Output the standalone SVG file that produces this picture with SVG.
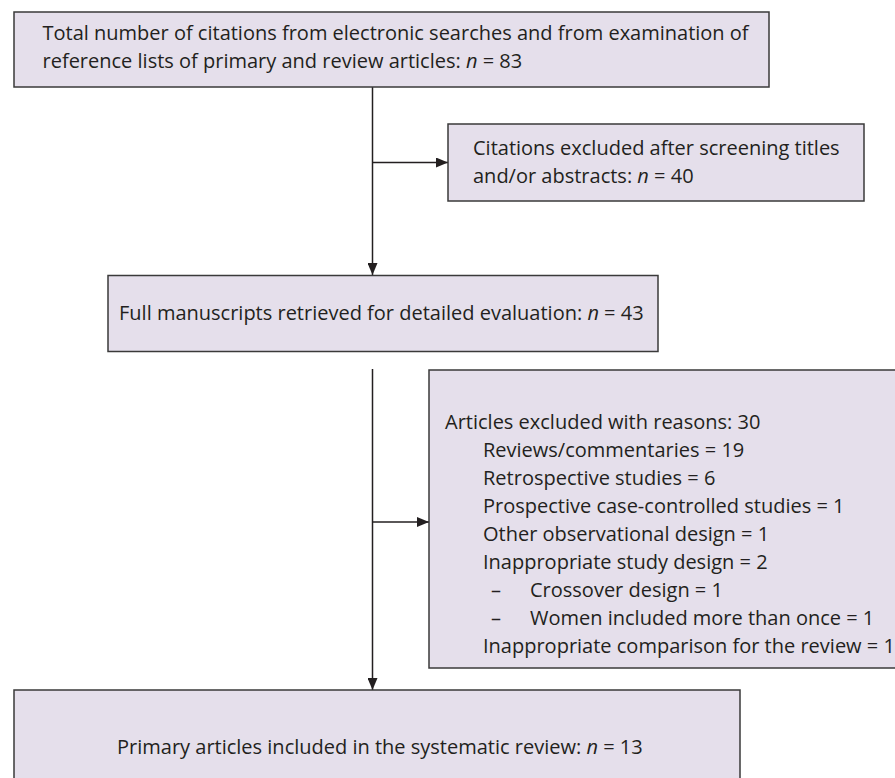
<svg xmlns="http://www.w3.org/2000/svg" width="895" height="778" viewBox="0 0 895 778">
<defs>
<style>
.box{fill:#e5dfeb;stroke:#3a3a3a;stroke-width:1.5}
.t{font-family:"Open Sans","Noto Sans","Liberation Sans",sans-serif;font-size:20px;fill:#231f20}
.c{stroke:#231f20;stroke-width:1.5;fill:none}
</style>
<marker id="ah" markerWidth="12" markerHeight="10" refX="12" refY="5" orient="auto" markerUnits="userSpaceOnUse">
<path d="M0,0 L12,5 L0,10 Z" fill="#231f20"/>
</marker>
</defs>
<rect width="895" height="778" fill="#fff"/>
<g id="connectors">
<line class="c" x1="372.5" y1="87" x2="372.5" y2="275" marker-end="url(#ah)"/>
<line class="c" x1="372.5" y1="162.5" x2="448" y2="162.5" marker-end="url(#ah)"/>
<line class="c" x1="372.5" y1="369" x2="372.5" y2="690" marker-end="url(#ah)"/>
<line class="c" x1="372.5" y1="522" x2="429" y2="522" marker-end="url(#ah)"/>
</g>
<g id="n1">
<rect class="box" x="14" y="12" width="755" height="75"/>
<text class="t" x="42.5" y="40">Total number of citations from electronic searches and from examination of</text>
<text class="t" x="42.5" y="68">reference lists of primary and review articles: <tspan font-style="italic">n</tspan> = 83</text>
</g>
<g id="n2">
<rect class="box" x="448" y="124" width="416" height="77"/>
<text class="t" x="473" y="155">Citations excluded after screening titles</text>
<text class="t" x="473" y="183">and/or abstracts: <tspan font-style="italic">n</tspan> = 40</text>
</g>
<g id="n3">
<rect class="box" x="108" y="275.5" width="550" height="76"/>
<text class="t" x="119" y="320">Full manuscripts retrieved for detailed evaluation: <tspan font-style="italic">n</tspan> = 43</text>
</g>
<g id="n4">
<rect class="box" x="429" y="370" width="480" height="298"/>
<text class="t" x="445" y="429">Articles excluded with reasons: 30</text>
<text class="t" x="483" y="457">Reviews/commentaries = 19</text>
<text class="t" x="483" y="485">Retrospective studies = 6</text>
<text class="t" x="483" y="513">Prospective case-controlled studies = 1</text>
<text class="t" x="483" y="541">Other observational design = 1</text>
<text class="t" x="483" y="569">Inappropriate study design = 2</text>
<text class="t" x="491" y="597">–</text>
<text class="t" x="530" y="597">Crossover design = 1</text>
<text class="t" x="491" y="625">–</text>
<text class="t" x="530" y="625">Women included more than once = 1</text>
<text class="t" x="483" y="653">Inappropriate comparison for the review = 1</text>
</g>
<g id="n5">
<rect class="box" x="14" y="690" width="726" height="100"/>
<text class="t" x="117" y="754">Primary articles included in the systematic review: <tspan font-style="italic">n</tspan> = 13</text>
</g>
</svg>
